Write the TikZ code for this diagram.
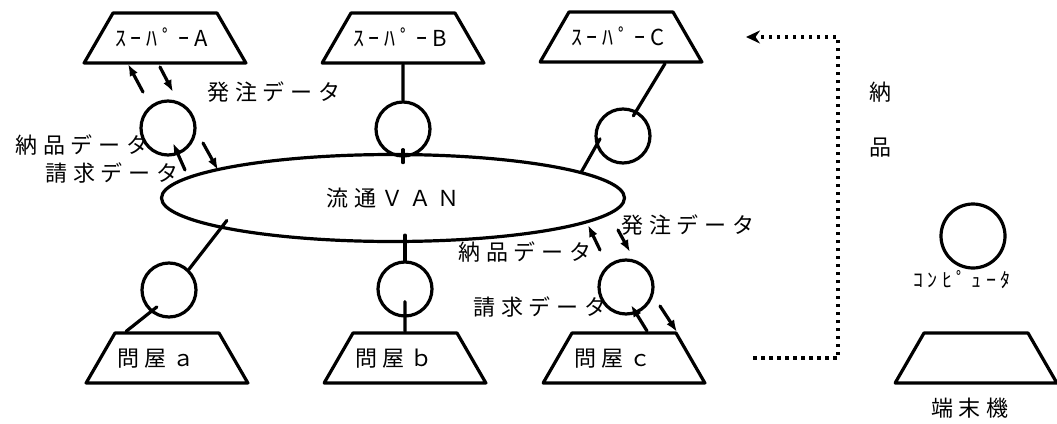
\documentclass[tikz,border=0pt]{standalone}
\usepackage{fontspec}
\setmainfont{Noto Sans CJK JP}
\usetikzlibrary{shapes.geometric,arrows.meta}

\begin{document}
\begin{tikzpicture}[
    % スタイル定義
    mise/.style={draw, trapezium, trapezium angle=60, text width=104pt, align=left,
      text height=19pt, text depth=3pt, inner ysep=14pt, inner xsep=0pt}, % 台形(店・端末)
    maru/.style={draw, circle, minimum size=54pt, inner sep=0pt}, % 丸(コンピュータ)
    yaji/.style={-{Latex[length=12pt,width=9pt]}}, % データの矢印
    tensen/.style={line width=3.6pt, dash pattern=on 3.5pt off 4.5pt, line cap=butt}, % 点線
    moji/.style={font=\fontsize{22}{26}\selectfont\addfontfeature{LetterSpace=26}}, % 全角の文字
    kana/.style={font=\fontsize{22}{26}\selectfont\addfontfeature{LetterSpace=22}}, % 半角カナ
    x=1pt, y=-1pt, line width=3.2pt, line join=round, line cap=round]
  \useasboundingbox (0,0) rectangle (1057,423);

  % 流通VAN
  \node[draw, ellipse, minimum width=463pt, minimum height=87pt, moji] (van) at (393,198) {流通ＶＡＮ};

  % スーパー(上段)
  \node[mise, kana] (sA) at (165,38) {\hspace*{2pt}ｽｰﾊﾟｰA};
  \node[mise, kana] (sB) at (403,38) {\hspace*{2pt}ｽｰﾊﾟｰB};
  \node[mise, kana] (sC) at (621,37) {\hspace*{2pt}ｽｰﾊﾟｰC};

  % 問屋(下段)
  \node[mise, moji] (tA) at (167,358) {\hspace*{2pt}問屋ａ};
  \node[mise, moji] (tB) at (405,358) {\hspace*{2pt}問屋ｂ};
  \node[mise, moji] (tC) at (624,358) {\hspace*{2pt}問屋ｃ};

  % 各社のコンピュータ
  \node[maru] (cA) at (168,128) {};
  \node[maru] (cB) at (403,129) {};
  \node[maru] (cC) at (623,136) {};
  \node[maru] (ca) at (169,290) {};
  \node[maru] (cb) at (405,289) {};
  \node[maru] (cc) at (626,287) {};

  % 凡例
  \node[maru, minimum size=64pt] (comp) at (973,236) {};
  \node[kana, font=\fontsize{20}{24}\selectfont\addfontfeature{LetterSpace=23}] (compname) at (962,280) {ｺﾝﾋﾟｭｰﾀ};
  \node[mise] (term) at (976,358) {};
  \node[moji] (termname) at (970,408) {端末機};

  % 接続線
  \draw (sB.south) -- (cB.north);
  \draw ([yshift=8pt]cB.south) -- ([yshift=-5pt]cB.south);
  \draw[shorten >=-6pt] ([xshift=44pt]sC.south) -- (cC.62);
  \draw[shorten <=-8pt] (cC.200) -- (van.8);
  \draw[shorten <=-10pt] (van.190) -- (ca.46);
  \draw[shorten <=-8pt] (ca.230) -- ([xshift=12pt]tA.top left corner);
  \draw[shorten <=-8pt] (cb.north |- van.south) -- (cb.north);
  \draw[shorten <=-16pt] (cb.south) -- (tB.north);

  % データの流れ(スーパーA)
  \coordinate (a1) at (143,92);  \coordinate (a2) at (128,64);
  \coordinate (a3) at (160,67);  \coordinate (a4) at (173,92);
  \coordinate (a5) at (185,170); \coordinate (a6) at (173,143);
  \coordinate (a7) at (203,143); \coordinate (a8) at (218,170);
  \draw[yaji] (a1) -- (a2);
  \draw[yaji] (a3) -- (a4);
  \draw[yaji] (a5) -- (a6);
  \draw[yaji] (a7) -- (a8);
  \node[moji] (hA) at (274,92) {発注データ};
  \node[moji] (nA) at (82,145) {納品データ};
  \node[moji] (sqA) at (112,173) {請求データ};

  % データの流れ(問屋c)
  \coordinate (c1) at (600,250); \coordinate (c2) at (588,225);
  \coordinate (c3) at (618,230); \coordinate (c4) at (630,252);
  \coordinate (c5) at (647,331); \coordinate (c6) at (631,305);
  \coordinate (c7) at (660,306); \coordinate (c8) at (677,332);
  \draw[yaji] (c1) -- (c2);
  \draw[yaji] (c3) -- (c4);
  \draw[yaji] (c5) -- (c6);
  \draw[yaji] (c7) -- (c8);
  \node[moji] (hc) at (688,225) {発注データ};
  \node[moji] (nc) at (525,252) {納品データ};
  \node[moji] (sqc) at (540,307) {請求データ};

  % 納品の流れ(点線)
  \coordinate (d1) at (753,358);
  \coordinate (d2) at (746,37);
  \draw[tensen, -{Stealth[length=14pt,width=13pt]}] (d1) -- ++(85,0) |- (d2);
  \node[moji] (n1) at (880,92) {納};
  \node[moji] (n2) at (880,148) {品};
\end{tikzpicture}
\end{document}
